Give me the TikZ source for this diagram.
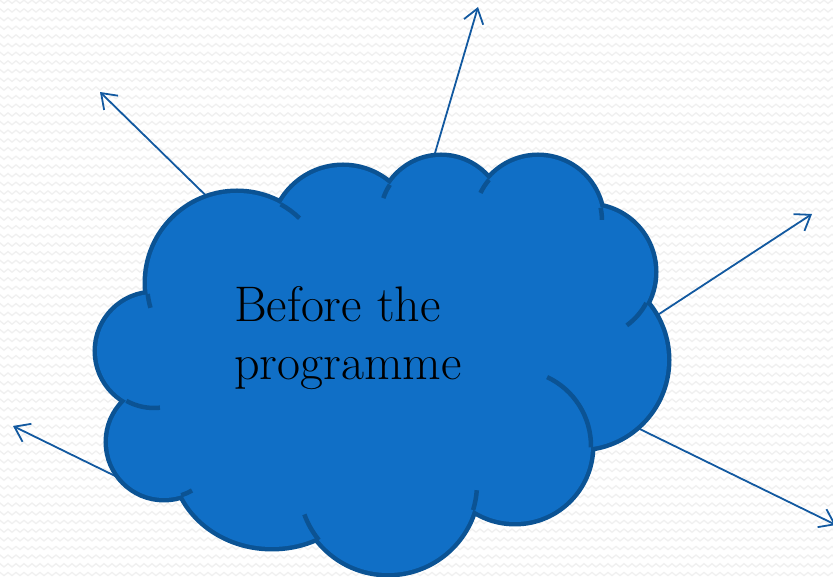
\documentclass[tikz,border=0pt]{standalone}
\usetikzlibrary{arrows.meta,decorations.pathmorphing}
\definecolor{cloudfill}{HTML}{106FC6}
\definecolor{cloudline}{HTML}{0B5394}
\definecolor{arrowcol}{HTML}{1259A0}
\definecolor{zigcol}{HTML}{F0F0F0}
\tikzset{
  bgzig/.style={draw=zigcol, line width=1.3pt, decorate, decoration={zigzag, segment length=8pt, amplitude=1.6pt}},
  ray/.style={draw=arrowcol, line width=1.8pt, -{Straight Barb[length=14pt, width=20pt]}},
  lobeline/.style={draw=cloudline, line width=9pt},
  lobefill/.style={fill=cloudfill},
  tick/.style={draw=cloudline, line width=4.5pt},
  lbl/.style={font=\fontsize{50}{58}\selectfont, text=black, align=left, inner sep=0pt}
}
\newcommand{\lobeset}{%
  (237,294) circle[radius=90pt]
  (343,339) circle[radius=71pt]
  (441,359) circle[radius=61pt]
  (538,356) circle[radius=64pt]
  (588,305) circle[radius=66pt]
  (579,217) circle[radius=88pt]
  (515,131) circle[radius=76pt]
  (388,93) circle[radius=89pt]
  (272,117) ellipse[x radius=98pt, y radius=87pt]
  (164,135) circle[radius=56pt]
  (154,226) circle[radius=57pt]}
\begin{document}
\begin{tikzpicture}[x=1pt,y=1pt]
\useasboundingbox (0,0) rectangle (833,577);
\fill[white] (0,0) rectangle (833,577);
\begin{scope}
\clip (0,0) rectangle (833,577);
\foreach \i in {0,...,67}
  \draw[bgzig] (-10,{\i*8.67+3}) -- (845,{\i*8.67+3});
\end{scope}
% arrows (behind the cloud)
\coordinate (s1) at (235,353); \coordinate (t1) at (100,485);
\coordinate (s2) at (425,390); \coordinate (t2) at (478,570);
\coordinate (s3) at (627,242); \coordinate (t3) at (812,363);
\coordinate (s4) at (158,80);  \coordinate (t4) at (13,151);
\coordinate (s5) at (607,164); \coordinate (t5) at (836,52);
\draw[ray] (s1) -- (t1);
\draw[ray] (s2) -- (t2);
\draw[ray] (s3) -- (t3);
\draw[ray] (s4) -- (t4);
\draw[ray] (s5) -- (t5);
% cloud
\path[lobeline] \lobeset;
\path[lobefill] \lobeset;
\path[lobefill] (237,294) -- (343,339) -- (441,359) -- (538,356) -- (588,305) -- (579,217) -- (515,131) -- (388,93) -- (272,117) -- (164,135) -- (154,226) -- cycle;
% inner arcs of the cloud
\draw[tick] ([shift={(187:90pt)}]237,294) arc[start angle=187, end angle=196, radius=90pt];
\draw[tick] ([shift={(61:90pt)}]237,294) arc[start angle=61, end angle=46, radius=90pt];
\draw[tick] ([shift={(147:61pt)}]441,359) arc[start angle=147, end angle=161, radius=61pt];
\draw[tick] ([shift={(140:64pt)}]538,356) arc[start angle=140, end angle=154, radius=64pt];
\draw[tick] ([shift={(12:64pt)}]538,356) arc[start angle=12, end angle=1, radius=64pt];
\draw[tick] ([shift={(-28:66pt)}]588,305) arc[start angle=-28, end angle=-54, radius=66pt];
\draw[tick] ([shift={(-1:76pt)}]515,131) arc[start angle=-1, end angle=65, radius=76pt];
\draw[tick] ([shift={(-17:89pt)}]388,93) arc[start angle=-17, end angle=-4, radius=89pt];
\draw[tick] ([shift={(219:89pt)}]388,93) arc[start angle=219, end angle=200, radius=89pt];
\draw[tick] ([shift={(-72:56pt)}]164,135) arc[start angle=-72, end angle=-60, radius=56pt];
\draw[tick] ([shift={(241:57pt)}]154,226) arc[start angle=241, end angle=276, radius=57pt];
% label (base anchor = baseline of the last line)
\node[lbl, anchor=base west] (label) at (234,197) {Before the\\programme};
\end{tikzpicture}
\end{document}
